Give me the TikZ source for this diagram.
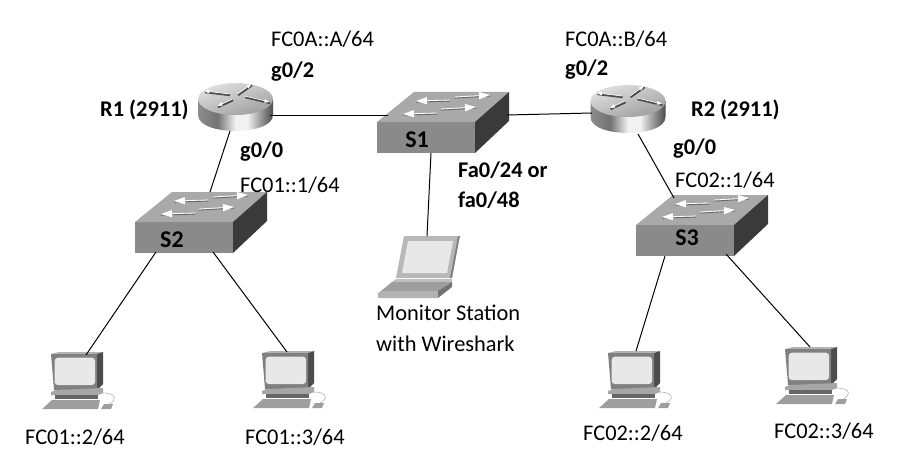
\documentclass[tikz,border=0pt]{standalone}
\usepackage{fontspec}
\setmainfont{Carlito}
\usetikzlibrary{arrows.meta}
\pgfdeclarehorizontalshading{cyl}{100bp}{
  color(0bp)=(black!45); color(25bp)=(black!45); color(38bp)=(black!55);
  color(50bp)=(black!5); color(58bp)=(black!5); color(68bp)=(black!45);
  color(75bp)=(black!70); color(100bp)=(black!60)}
\definecolor{swtop}{HTML}{A9A9A9}
\definecolor{swfront}{HTML}{8A8A8A}
\definecolor{swside}{HTML}{3A3A3A}
\tikzset{
  devnode/.style={inner sep=0pt,draw=none,fill=none},
  lbl/.style={anchor=west,inner sep=0pt,font=\fontsize{22.4}{24}\selectfont,text=black},
  blbl/.style={lbl,font=\fontsize{22.4}{24}\selectfont\bfseries,text=black},
  swlbl/.style={inner sep=0pt,font=\fontsize{24}{26}\selectfont\bfseries,text=black},
  link/.style={draw=black,line width=1pt},
  flow/.style={white,line width=.8pt,-{Triangle[length=11pt,width=7pt]}},
  flowsh/.style={black!60,line width=.9pt},
  switchpic/.pic={
    \fill[swtop] (0,0) -- (37,-30) -- (132,-30) -- (98,0) -- cycle;
    \fill[swfront] (0,0) rectangle (98,31);
    \fill[swside] (98,0) -- (132,-30) -- (132,-1) -- (98,31) -- cycle;
    \foreach \ax/\ay/\bx/\by in {73/-22/39/-21, 78/-25/113/-27, 60/-9/26/-8, 64/-13/99/-15}{
      \draw[flowsh] (\ax,\ay+1.1) -- (\bx,\by+1.1);
      \draw[flow] (\ax,\ay) -- (\bx,\by);
    }
  },
  routerpic/.pic={
    \shade[shading=cyl] (-37.5,0) -- (-37.5,16) .. controls (-37.5,37.3) and (37.5,37.3) .. (37.5,16) -- (37.5,0) -- cycle;
    \shade[top color=black!12,bottom color=black!38,shading angle=20] (0,0) ellipse[x radius=37.5,y radius=16];
    \foreach \ax/\ay/\bx/\by in {-6/-5/-31/-8, 2/-5/16/-15, 9/-3/34/3, -3/0/-18/7}{
      \draw[black!70,line width=2pt] (\ax+.6,\ay+1.2) -- (\bx+.6,\by+1.2);
      \draw[white,line width=.6pt,-{Triangle[length=5pt,width=3.5pt]}] (\ax,\ay) -- (\bx,\by);
    }
  },
  pcpic/.pic={
    \fill[black!30] (0,0) -- (8,-2) -- (52,-2) -- (46,0) -- cycle;
    \fill[black!70] (46,0) -- (52,-2) -- (52,30) -- (46,36) -- cycle;
    \fill[black!50] (0,0) -- (46,0) -- (46,36) -- (3,36) -- cycle;
    \fill[black!9,rounded corners=3pt] (3.7,3.7) rectangle (44,31);
    \fill[black!35] (0,38) -- (5,36) -- (52,34) -- (52,39) -- (47,41) -- (0,41) -- cycle;
    \fill[black!60] (4,41) rectangle (47,45);
    \fill[black!38] (-9,55) -- (1,46) -- (49,46) -- (47,55) -- cycle;
    \fill[black!38] (50,55) -- (53,50) -- (62,50) -- (60,55) -- cycle;
    \draw[black!30,line width=.6pt] (51,39) .. controls (66,39) and (66,46) .. (58,50);
  },
  laptoppic/.pic={
    \fill[black!28] (404,236) -- (460,236) -- (459,240) -- (452,278) -- (396,278) -- cycle;
    \fill[black!50] (460,236) -- (459,240) -- (452,278) -- (450,278) -- (458,236) -- cycle;
    \fill[black!9] (408,241) -- (453,241) -- (447,273) -- (402,273) -- cycle;
    \fill[black!25] (396,279) -- (452,279) -- (452,282) -- (392,282) -- cycle;
    \fill[black!38] (392,282) -- (452,282) -- (438,291) -- (381,291) -- cycle;
    \fill[black!30] (381,291) -- (438,291) -- (438,298) -- (378,298) -- (378,293) -- cycle;
    \fill[black!55] (438,291) -- (452,282) -- (452,287) -- (438,298) -- cycle;
  }
}
\begin{document}
\begin{tikzpicture}[x=1pt,y=-1pt]
\useasboundingbox (0,0) rectangle (904,476);
% devices
\pic at (235.5,99) {routerpic};
\pic at (628,101) {routerpic};
\pic at (377,122) {switchpic};
\pic at (135,222) {switchpic};
\pic at (636,225) {switchpic};
\pic at (0,0) {laptoppic};
\pic at (51,354) {pcpic};
\pic at (262,353) {pcpic};
\pic at (608,353) {pcpic};
\pic at (785,349) {pcpic};
% anchors for connectors
\node[devnode,minimum width=76pt,minimum height=50pt] (R1) at (235.5,107) {};
\node[devnode,minimum width=76pt,minimum height=50pt] (R2) at (628,110) {};
\node[devnode,minimum width=132pt,minimum height=62pt] (S1) at (443,122) {};
\node[devnode,minimum width=132pt,minimum height=62pt] (S2) at (201,222) {};
\node[devnode,minimum width=132pt,minimum height=62pt] (S3) at (702,225) {};
\node[devnode,minimum width=82pt,minimum height=62pt] (LP) at (419,267) {};
\node[devnode,minimum width=70pt,minimum height=58pt] (P1) at (78,380) {};
\node[devnode,minimum width=70pt,minimum height=58pt] (P2) at (285,377) {};
\node[devnode,minimum width=70pt,minimum height=58pt] (P3) at (637,379) {};
\node[devnode,minimum width=70pt,minimum height=58pt] (P4) at (813,374) {};
% connectors
\draw[link] ([shift={(34.5,9)}]R1.center) -- ([shift={(-55,-6)}]S1.center);
\draw[link] ([shift={(-5.5,24)}]R1.center) -- ([shift={(9,-30)}]S2.center);
\draw[link] ([shift={(64,-7)}]S1.center) -- ([shift={(-36,3)}]R2.center);
\draw[link] ([shift={(10,24)}]R2.center) -- ([shift={(-28,-27)}]S3.center);
\draw[link] ([shift={(-12,31)}]S1.center) -- ([shift={(8,-31)}]LP.center);
\draw[link] ([shift={(-45,30)}]S2.center) -- ([shift={(8,-25)}]P1.center);
\draw[link] ([shift={(12,30)}]S2.center) -- ([shift={(2,-25)}]P2.center);
\draw[link] ([shift={(-37,31)}]S3.center) -- ([shift={(-1,-28)}]P3.center);
\draw[link] ([shift={(24,29)}]S3.center) -- ([shift={(-3,-27)}]P4.center);
% labels
\node[lbl] (t1) at (271,39) {FC0A::A/64};
\node[blbl] (t2) at (271,72) {g0/2};
\node[blbl] (t3) at (100,110) {R1 (2911)};
\node[blbl] (t4) at (240,152) {g0/0};
\node[lbl] (t5) at (240,185) {FC01::1/64};
\node[lbl] (t6) at (565,39) {FC0A::B/64};
\node[blbl] (t7) at (565,70) {g0/2};
\node[blbl] (t8) at (691,110) {R2 (2911)};
\node[blbl] (t9) at (673,149) {g0/0};
\node[lbl] (t10) at (675,180) {FC02::1/64};
\node[blbl] (t11) at (458,170) {Fa0/24 or};
\node[blbl] (t12) at (458,200) {fa0/48};
\node[lbl] (t13) at (376,313) {Monitor Station};
\node[lbl] (t14) at (376,344) {with Wireshark};
\node[lbl] (t15) at (25,437) {FC01::2/64};
\node[lbl] (t16) at (245,437) {FC01::3/64};
\node[lbl] (t17) at (583,433) {FC02::2/64};
\node[lbl] (t18) at (774,431) {FC02::3/64};
\node[swlbl] (t19) at (417,140) {S1};
\node[swlbl] (t20) at (172,240) {S2};
\node[swlbl] (t21) at (687,238) {S3};
\end{tikzpicture}
\end{document}
